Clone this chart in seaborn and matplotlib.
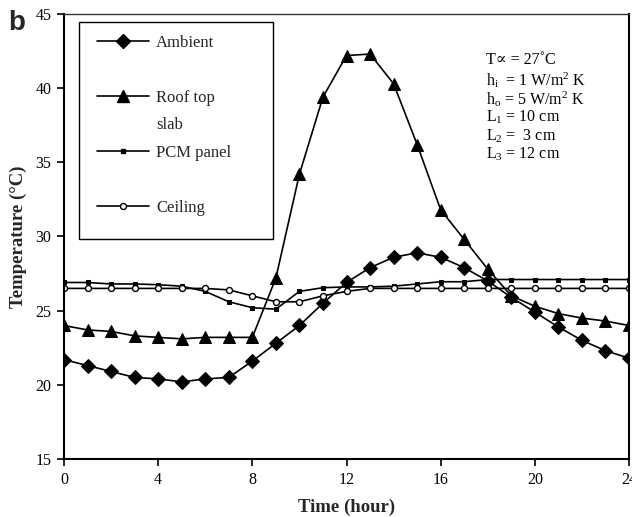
import numpy as np
import pandas as pd
import matplotlib
matplotlib.use("Agg")
import matplotlib.pyplot as plt
import seaborn as sns
from matplotlib.lines import Line2D
from matplotlib.patches import Rectangle

hours = list(range(25))
ambient = [21.7, 21.3, 20.9, 20.5, 20.4, 20.2, 20.4, 20.5, 21.6, 22.8, 24.0, 25.5, 26.9, 27.9,
           28.6, 28.9, 28.6, 27.9, 27.0, 25.9, 24.9, 23.9, 23.0, 22.3, 21.8]
roof = [24.0, 23.7, 23.6, 23.3, 23.2, 23.1, 23.2, 23.2, 23.2, 27.2, 34.2, 39.4, 42.2, 42.3,
        40.3, 36.2, 31.8, 29.8, 27.8, 26.0, 25.3, 24.8, 24.5, 24.3, 24.0]
pcm = [26.9, 26.9, 26.8, 26.8, 26.75, 26.65, 26.3, 25.6, 25.2, 25.1, 26.3, 26.55, 26.6, 26.6,
       26.65, 26.8, 26.95, 26.95, 27.1, 27.1, 27.1, 27.1, 27.1, 27.1, 27.1]
ceiling = [26.5, 26.5, 26.5, 26.5, 26.5, 26.5, 26.5, 26.4, 26.0, 25.6, 25.6, 26.0, 26.3, 26.5,
           26.5, 26.5, 26.5, 26.5, 26.5, 26.5, 26.5, 26.5, 26.5, 26.5, 26.5]
series_names = ["Ambient", "Roof top slab", "PCM panel", "Ceiling"]
xticks = [0, 4, 8, 12, 16, 20, 24]
yticks = [15, 20, 25, 30, 35, 40, 45]
params = ["T\u221d = 27\u02daC", "h$_{\\rm i}$  = 1 W/m$^{2}$ K", "h$_{\\rm o}$ = 5 W/m$^{2}$ K",
          "L$_{1}$ = 10 cm", "L$_{2}$ =  3 cm", "L$_{3}$ = 12 cm"]

sns.set_style("ticks")
plt.rcParams["font.family"] = ["Liberation Serif", "DejaVu Serif"]
plt.rcParams["mathtext.fontset"] = "custom"
plt.rcParams["mathtext.rm"] = "Liberation Serif"
plt.rcParams["mathtext.it"] = "Liberation Serif:italic"
plt.rcParams["mathtext.bf"] = "Liberation Serif:bold"

fig = plt.figure(figsize=(6.32, 5.17), dpi=100)
ax = fig.add_axes([64 / 632, 58 / 517, 565 / 632, 445 / 517])

df = pd.DataFrame({"hour": hours, "Ambient": ambient, "Roof top slab": roof,
                   "PCM panel": pcm, "Ceiling": ceiling})

styles = {
    "Ambient": dict(marker="D", markersize=7, markerfacecolor="black", markeredgecolor="black"),
    "Roof top slab": dict(marker="^", markersize=9, markerfacecolor="black", markeredgecolor="black"),
    "PCM panel": dict(marker="s", markersize=2.8, markerfacecolor="black", markeredgecolor="black"),
    "Ceiling": dict(marker="o", markersize=4.3, markerfacecolor="white", markeredgecolor="black",
                    markeredgewidth=1.0),
}
for name in series_names:
    sns.lineplot(data=df, x="hour", y=name, ax=ax, color="black", linewidth=1.2,
                 legend=False, **styles[name])

ax.set_xlim(0, 24)
ax.set_ylim(15, 45)
ax.set_xticks(xticks)
ax.set_yticks(yticks)
ax.tick_params(axis="both", direction="out", length=5, width=1.2, labelsize=11.5,
               colors="black", pad=4)
for s in ["left", "bottom", "right"]:
    ax.spines[s].set_linewidth(1.5)
    ax.spines[s].set_color("black")
ax.spines["top"].set_linewidth(1.0)
ax.spines["top"].set_color("#333333")
ax.spines["top"].set_visible(True)
ax.spines["right"].set_visible(True)

ax.set_xlabel("Time (hour)", fontsize=13.5, fontweight="bold", labelpad=8)
ax.set_ylabel("Temperature (\u00b0C)", fontsize=13.5, fontweight="bold", labelpad=6)

# legend frame
def px_to_ax(xp, yp):
    return (xp - 64) / 565, (459 - yp) / 445

fx0, fy0 = px_to_ax(79, 239)
fx1, fy1 = px_to_ax(273, 22)
ax.add_patch(Rectangle((fx0, fy0), fx1 - fx0, fy1 - fy0, transform=ax.transAxes,
                       facecolor="white", edgecolor="black", linewidth=1.0, zorder=4))

blank = Line2D([], [], linestyle="none", marker=None)
handles = [
    Line2D([], [], color="black", linewidth=1.2, **styles["Ambient"]),
    blank,
    Line2D([], [], color="black", linewidth=1.2, **styles["Roof top slab"]),
    blank,
    Line2D([], [], color="black", linewidth=1.2, **styles["PCM panel"]),
    blank,
    Line2D([], [], color="black", linewidth=1.2, **styles["Ceiling"]),
]
labels = ["Ambient", " ", "Roof top", "slab", "PCM panel", " ", "Ceiling"]
lx, ly = px_to_ax(97, 35)
leg = ax.legend(handles, labels, loc="upper left", bbox_to_anchor=(lx, ly),
                fontsize=12, frameon=False, borderpad=0, labelspacing=0.69,
                handlelength=3.1, handletextpad=0.45, borderaxespad=0,
                markerscale=1.0)
leg.set_zorder(5)

# parameter annotation
ys = [60, 80, 99, 117, 136, 154]
for txt, yp in zip(params, ys):
    ax.text((486 - 64) / 565, (459 - yp) / 445, txt, transform=ax.transAxes,
            fontsize=11.5, va="center", ha="left", color="black")

fig.text(8 / 632, 1 - 23 / 517, "b", fontsize=20, fontweight="bold",
         family=["Liberation Sans", "DejaVu Sans"], va="center", ha="left")

fig.savefig("out.png", dpi=100)
